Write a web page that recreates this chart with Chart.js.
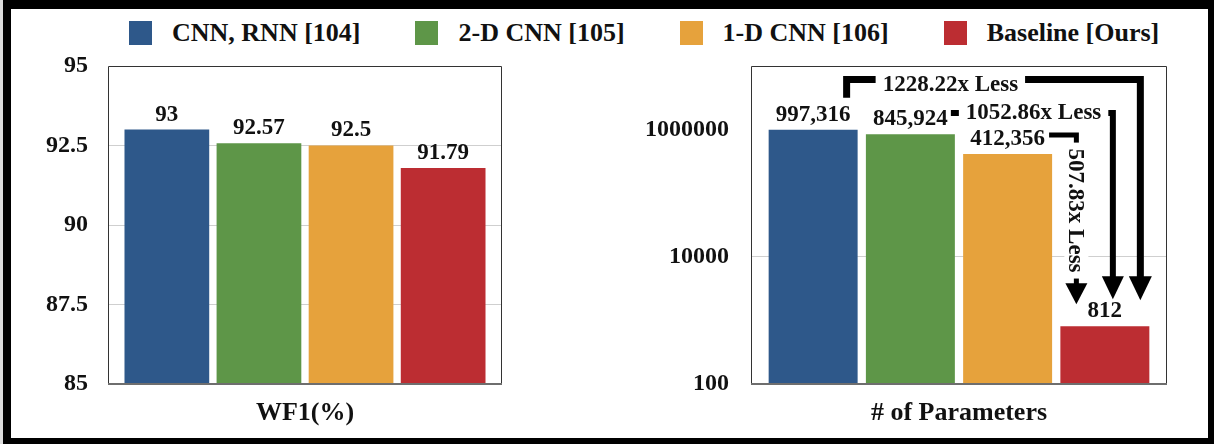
<!DOCTYPE html>
<html>
<head>
<meta charset="utf-8">
<script src="https://cdn.jsdelivr.net/npm/chart.js@4.4.0/dist/chart.umd.min.js"></script>
<style>
  html, body { margin: 0; padding: 0; width: 1214px; height: 444px; overflow: hidden; background: #dcdcdc; }
  .frame {
    position: absolute; left: 3px; top: 0; width: 1211px; height: 444px;
    box-sizing: border-box; border-style: solid; border-color: #000;
    border-width: 9px 6px 6px 8px; background: #fff;
  }
  .legend {
    position: absolute; left: 129px; top: 19px; display: flex; gap: 55px;
    font: bold 26px "Liberation Serif", "Times New Roman", serif; color: #111; line-height: 28px;
  }
  .item { display: flex; align-items: center; gap: 20px; white-space: nowrap; }
  .swatch { width: 23px; height: 24px; }
  .panel { position: absolute; top: 50px; height: 385px; }
  #wf1Panel { left: 11px; width: 510px; }
  #paramPanel { left: 600px; width: 590px; }
</style>
</head>
<body>
<div class="frame"></div>
<div class="legend" id="legend"></div>
<div class="panel" id="wf1Panel"><canvas id="wf1Chart"></canvas></div>
<div class="panel" id="paramPanel"><canvas id="paramChart"></canvas></div>

<script>
// ---- data ----
const methods = ['CNN, RNN [104]', '2-D CNN [105]', '1-D CNN [106]', 'Baseline [Ours]'];
const wf1Category = ['WF1(%)'];
const paramCategory = ['# of Parameters'];
const wf1Scores = [93, 92.57, 92.5, 91.79];
const paramCounts = [997316, 845924, 412356, 812];
const wf1Ticks = [85, 87.5, 90, 92.5, 95];
const paramTicks = [100, 10000, 1000000];
const reductionLabels = ['1228.22x Less', '1052.86x Less', '507.83x Less'];

// ---- styling ----
const methodColors = ['#2E588A', '#5E9648', '#E6A23C', '#BC2D32'];
const serif = '"Liberation Serif", "Times New Roman", serif';
Chart.defaults.font.family = serif;
Chart.defaults.font.weight = 'bold';
Chart.defaults.color = '#111';

// shared legend
const legendEl = document.getElementById('legend');
methods.forEach((m, i) => {
  const item = document.createElement('div');
  item.className = 'item';
  const sw = document.createElement('div');
  sw.className = 'swatch';
  sw.style.background = methodColors[i];
  const tx = document.createElement('span');
  tx.textContent = m;
  item.appendChild(sw);
  item.appendChild(tx);
  legendEl.appendChild(item);
});

function buildDatasets(values, barPct) {
  return methods.map((m, i) => ({
    label: m,
    data: [values[i]],
    backgroundColor: methodColors[i],
    borderWidth: 0,
    categoryPercentage: 0.935,
    barPercentage: barPct
  }));
}

// value text above each bar
function valueLabels(format) {
  return {
    id: 'valueLabels',
    afterDatasetsDraw(chart) {
      const ctx = chart.ctx;
      ctx.save();
      ctx.font = 'bold 23px ' + serif;
      ctx.fillStyle = '#111';
      ctx.textAlign = 'center';
      ctx.textBaseline = 'middle';
      chart.data.datasets.forEach((ds, i) => {
        chart.getDatasetMeta(i).data.forEach((bar, j) => {
          ctx.fillText(format(ds.data[j]), bar.x, bar.y - 15);
        });
      });
      ctx.restore();
    }
  };
}

// plot-area frame
const plotFrame = {
  id: 'plotFrame',
  afterDatasetsDraw(chart) {
    const { left, right, top, bottom } = chart.chartArea;
    const ctx = chart.ctx;
    ctx.save();
    ctx.strokeStyle = '#333';
    ctx.lineWidth = 1;
    ctx.beginPath();
    ctx.moveTo(left + 0.5, bottom);
    ctx.lineTo(left + 0.5, top + 0.5);
    ctx.lineTo(right - 0.5, top + 0.5);
    ctx.lineTo(right - 0.5, bottom);
    ctx.stroke();
    ctx.strokeStyle = '#6e6e6e';
    ctx.lineWidth = 2;
    ctx.beginPath();
    ctx.moveTo(left, bottom);
    ctx.lineTo(right, bottom);
    ctx.stroke();
    ctx.restore();
  }
};

// reduction brackets and arrows pointing at the baseline bar
const reductionArrows = {
  id: 'reductionArrows',
  afterDatasetsDraw(chart) {
    const ctx = chart.ctx;
    const top = chart.chartArea.top;
    const bars = chart.data.datasets.map((_, i) => chart.getDatasetMeta(i).data[0]);
    const [b0, b1, b2, b3] = bars;
    const rightOf = b => b.x + b.width / 2;
    const leftOf = b => b.x - b.width / 2;
    const font = 'bold 23px ' + serif;

    function arrowPath(points, lw, headW, headH) {
      const last = points[points.length - 1];
      ctx.lineWidth = lw;
      ctx.beginPath();
      ctx.moveTo(points[0][0], points[0][1]);
      for (let k = 1; k < points.length - 1; k++) ctx.lineTo(points[k][0], points[k][1]);
      ctx.lineTo(last[0], last[1] - headH + 1);
      ctx.stroke();
      ctx.beginPath();
      ctx.moveTo(last[0] - headW / 2, last[1] - headH);
      ctx.lineTo(last[0] + headW / 2, last[1] - headH);
      ctx.lineTo(last[0], last[1]);
      ctx.closePath();
      ctx.fill();
    }

    function boxedText(text, x, y, lineY, halfBand) {
      ctx.font = font;
      const w = ctx.measureText(text).width;
      ctx.fillStyle = '#fff';
      ctx.fillRect(x - 7, lineY - halfBand, w + 14, halfBand * 2);
      ctx.fillStyle = '#111';
      ctx.textAlign = 'left';
      ctx.textBaseline = 'middle';
      ctx.fillText(text, x, y);
    }

    ctx.save();
    ctx.strokeStyle = '#000';
    ctx.fillStyle = '#000';
    ctx.lineJoin = 'miter';
    ctx.lineCap = 'butt';

    // CNN, RNN -> Baseline
    const yA = top + 13.5;
    const xA0 = rightOf(b0) - 11;
    const xA1 = rightOf(b3) - 9;
    arrowPath([[xA0, b0.y - 32], [xA0, yA], [xA1, yA], [xA1, b3.y - 26]], 7, 23, 24);

    // 2-D CNN -> Baseline
    const yB = top + 47;
    const xB0 = rightOf(b1) - 4;
    const xB1 = b3.x + 8;
    arrowPath([[xB0, yB], [xB1, yB], [xB1, b3.y - 27]], 6, 22, 23);

    // 1-D CNN -> Baseline
    const yC = top + 69;
    const xC0 = rightOf(b2) - 3;
    const xC1 = leftOf(b3) + 16;
    const tipC = b3.y - 22;
    arrowPath([[xC0, yC], [xC1, yC], [xC1, tipC]], 5, 22, 21);

    boxedText(reductionLabels[0], xA0 + 36, yA + 5.5, yA, 5);
    boxedText(reductionLabels[1], xB0 + 15, yB, yB, 5);

    // vertical label along the 1-D CNN arrow
    ctx.save();
    ctx.font = font;
    const wC = ctx.measureText(reductionLabels[2]).width;
    const midC = (yC + 3 + tipC - 21) / 2;
    ctx.translate(xC1, midC);
    ctx.rotate(Math.PI / 2);
    ctx.fillStyle = '#fff';
    ctx.fillRect(-wC / 2 - 6, -12, wC + 12, 24);
    ctx.fillStyle = '#111';
    ctx.textAlign = 'center';
    ctx.textBaseline = 'middle';
    ctx.fillText(reductionLabels[2], 0, 1);
    ctx.restore();

    ctx.restore();
  }
};

function axisOptions(yConfig, yWidth, tickPad) {
  return {
    x: {
      grid: { display: false, drawTicks: false },
      border: { display: false },
      ticks: { padding: 14, font: { size: 26, weight: 'bold' }, color: '#111' },
      afterFit: s => { s.height = 51; }
    },
    y: Object.assign({
      grid: { drawTicks: false, lineWidth: 1 },
      border: { display: false },
      afterFit: s => { s.width = yWidth; s.paddingTop = 0; s.paddingBottom = 0; }
    }, yConfig, {
      ticks: Object.assign({ padding: tickPad, font: { size: 24, weight: 'bold' }, color: '#111' }, yConfig.ticks || {})
    })
  };
}

new Chart(document.getElementById('wf1Chart'), {
  type: 'bar',
  data: { labels: wf1Category, datasets: buildDatasets(wf1Scores, 0.92) },
  options: {
    responsive: true,
    maintainAspectRatio: false,
    animation: false,
    layout: { padding: { top: 16, right: 19, left: 0, bottom: 0 } },
    plugins: { legend: { display: false }, tooltip: { enabled: false } },
    scales: axisOptions({
      type: 'linear',
      min: wf1Ticks[0],
      max: wf1Ticks[wf1Ticks.length - 1],
      afterBuildTicks: s => { s.ticks = wf1Ticks.map(v => ({ value: v })); },
      grid: {
        drawTicks: false,
        color: c => (c.tick && c.tick.value > wf1Ticks[0] && c.tick.value < wf1Ticks[wf1Ticks.length - 1]) ? '#cfcfcf' : 'rgba(0,0,0,0)'
      },
      ticks: { callback: v => String(v) }
    }, 97, 20)
  },
  plugins: [plotFrame, valueLabels(v => String(v))]
});

new Chart(document.getElementById('paramChart'), {
  type: 'bar',
  data: { labels: paramCategory, datasets: buildDatasets(paramCounts, 0.915) },
  options: {
    responsive: true,
    maintainAspectRatio: false,
    animation: false,
    layout: { padding: { top: 16, right: 23, left: 0, bottom: 0 } },
    plugins: { legend: { display: false }, tooltip: { enabled: false } },
    scales: axisOptions({
      type: 'logarithmic',
      min: 100,
      max: 10000000,
      afterBuildTicks: s => { s.ticks = paramTicks.map(v => ({ value: v })); },
      grid: {
        drawTicks: false,
        color: c => (c.tick && c.tick.value === paramTicks[1]) ? '#cfcfcf' : 'rgba(0,0,0,0)'
      },
      ticks: { callback: v => String(v) }
    }, 151, 22)
  },
  plugins: [plotFrame, valueLabels(v => v.toLocaleString('en-US')), reductionArrows]
});
</script>
</body>
</html>
